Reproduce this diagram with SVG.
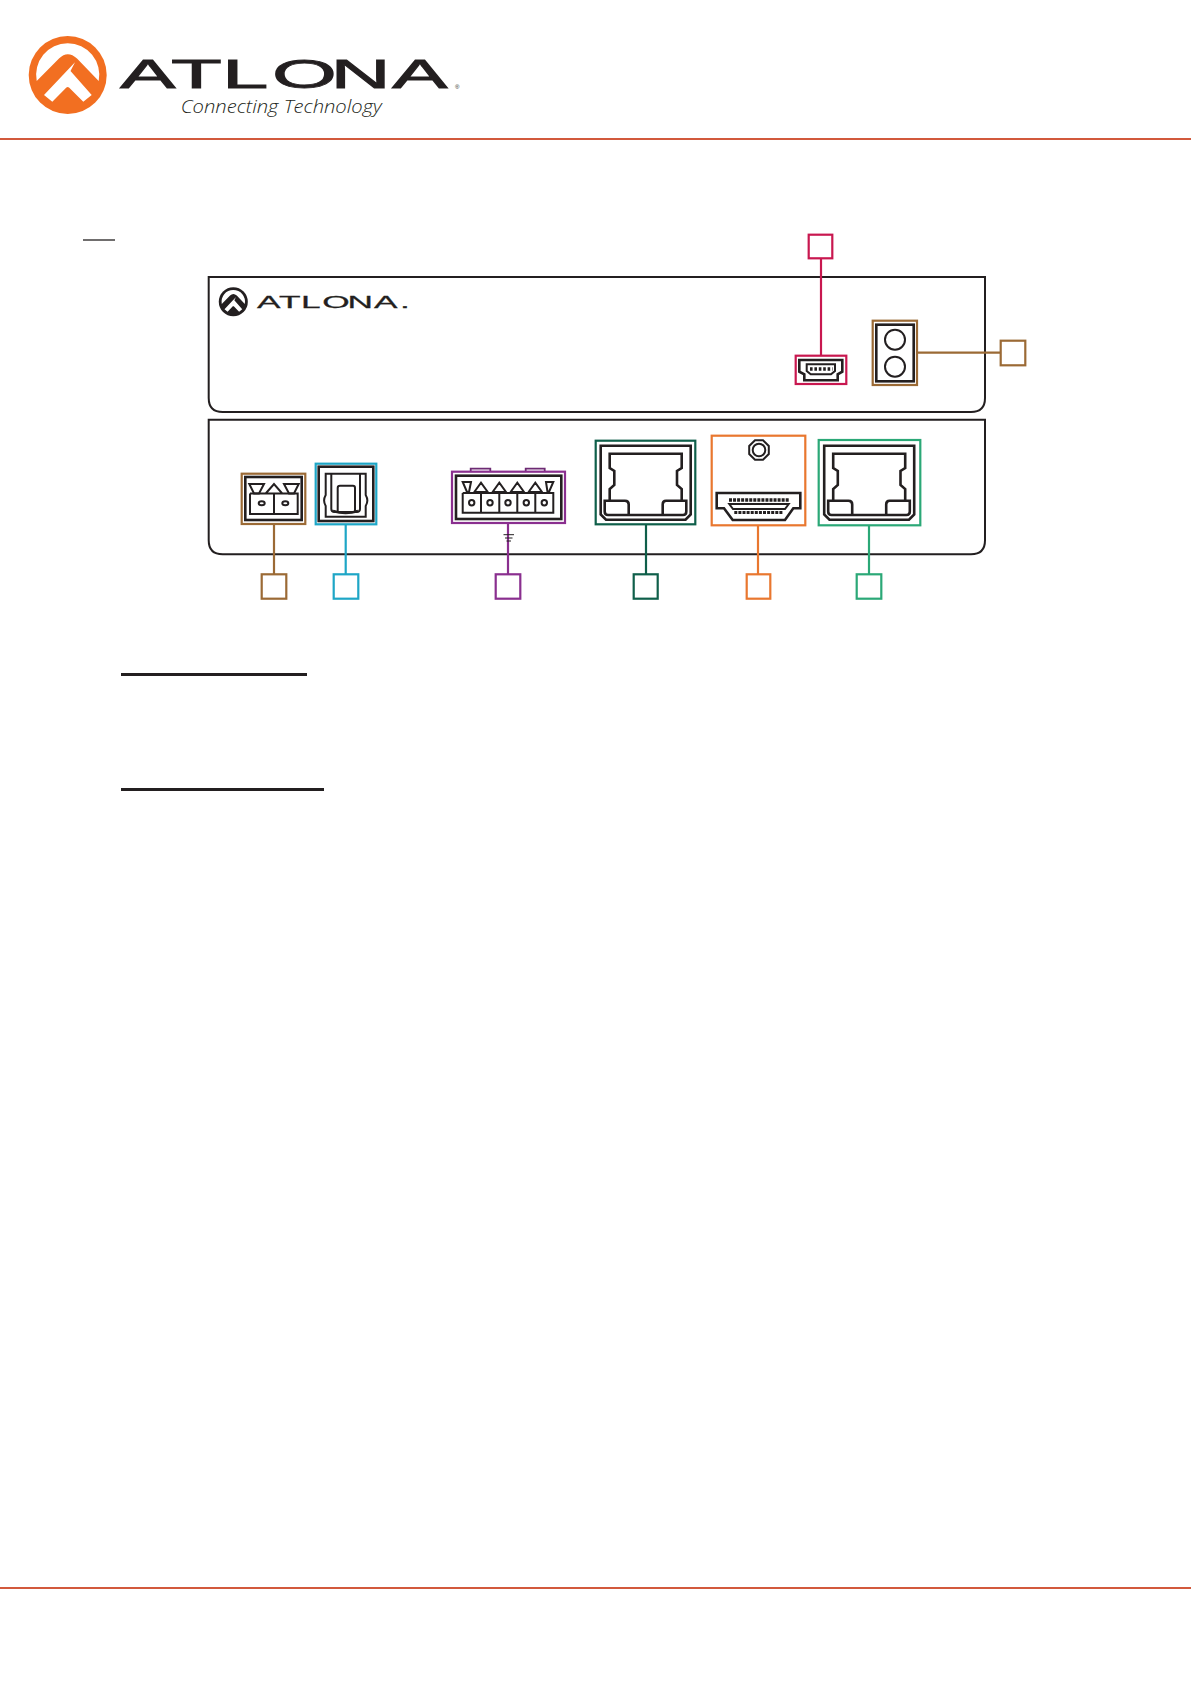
<svg xmlns="http://www.w3.org/2000/svg" width="1191" height="1684" viewBox="0 0 1191 1684">
<style>
.rule{stroke:#d2593c;stroke-width:2;fill:none}
.under{stroke:#231f20;fill:none}
.panel{fill:none;stroke:#231f20;stroke-width:2}
.k{fill:none;stroke:#231f20;stroke-width:2;stroke-linejoin:miter}
.k2{fill:none;stroke:#231f20;stroke-width:2.6}
.brown{stroke:#9b6a35}.cyan{stroke:#1ea6c6}.purple{stroke:#8a2f8f}.dgreen{stroke:#0f5f4a}.orange{stroke:#e9772f}.green{stroke:#2ba877}.red{stroke:#c8174f}
.frame{fill:#fff;stroke-width:2.2}
.link{fill:none;stroke-width:2.2}
.logo{font-family:"Liberation Sans",Arial,sans-serif;fill:#231f20}
</style>
<defs>
<g id="mark">
<circle cx="67.7" cy="75" r="39"/>
<path fill="#fff" d="M36.7 81A31.6 31.6 0 1 1 98.7 81L77 58.5Q67.7 50 59 58.5Z"/>
<path fill="#fff" d="M44 95L75 62.3 70.5 71 91.7 95 83.3 101.7 69 87.5Q67.7 86.5 66.4 87.5L52.3 101.7Z"/>
</g>
<g id="rj45">
<path class="k2" d="M600.7 445.7H690.7V514.5L685.5 519.7H606L600.7 514.5Z"/>
<path class="k2" d="M609.7 500.7V489L614.3 485V471L609.7 468V453.7H681.7V468L677 471V485L681.7 489V500.7"/>
<path class="k2" d="M628.7 515V504.5Q628.7 500.7 625 500.7H604.7V511.5Q604.7 515 608 515H683Q686.3 515 686.3 511.5V500.7H666Q662.7 500.7 662.7 504.5V515"/>
</g>
</defs>

<path class="rule" d="M0 139H1191"/>
<path class="rule" d="M0 1588H1191"/>
<path class="under" stroke-width="1.3" d="M83 240H115"/>
<path class="under" stroke-width="3" d="M121 674.5H307"/>
<path class="under" stroke-width="3" d="M121 789.5H324"/>

<g id="brand">
<use href="#mark" fill="#f26f21"/>
<text class="logo" font-size="39.7" stroke="#231f20" stroke-width=".8" transform="scale(2.1 1)" x="57.1 81.4 105.7 129.5 157.4 186.7" y="88.2">ATLONA</text>
<text class="logo" font-size="6" fill="#777" x="455" y="89">®</text>
<text x="180.7" y="113.3" font-family="'Open Sans',sans-serif" font-style="italic" font-weight="300" font-size="19" fill="#231f20" textLength="201" lengthAdjust="spacingAndGlyphs">Connecting Technology</text>
</g>

<g id="panel-top">
<path class="panel" d="M208.7 277H985V398Q985 412 971 412H222.7Q208.7 412 208.7 398Z"/>
<use href="#mark" fill="#231f20" transform="translate(233.3 301.7) scale(.372) translate(-67.7 -75)"/>
<text class="logo" font-size="16.8" stroke="#231f20" stroke-width=".25" transform="scale(2.1 1)" x="122.4 132.9 143.3 153.5 165.5 178.1 190.5" y="307.7">ATLONA.</text>
</g>
<g id="panel-bottom">
<path class="panel" d="M208.7 419.7H985V540.3Q985 554.3 971 554.3H222.7Q208.7 554.3 208.7 540.3Z"/>
</g>

<g id="connectors">
<path class="link brown" d="M274 524V574.5"/>
<path class="link cyan" d="M345.7 524V574.5"/>
<path class="link purple" d="M508 523V574.5"/>
<path class="link dgreen" d="M646 524V574.5"/>
<path class="link orange" d="M758 525V574.5"/>
<path class="link green" d="M869 525V574.5"/>
<path class="link red" d="M821 258V355.7"/>
<path class="link brown" d="M917 352.7H1000.7"/>
<path stroke="#231f20" stroke-width="1" fill="none" d="M503.5 534.7H514M505 538H512.5M506.5 541H511"/>
</g>

<g id="port-power">
<rect class="frame brown" x="241.7" y="473.7" width="63.6" height="50.3"/>
<rect class="k2" x="245.3" y="477" width="56.4" height="43"/>
<path class="k" d="M249.3 484H264L259 493.5H254ZM298.7 484H284L289 493.5H294Z"/>
<path class="k" d="M250 493.5V514H297.7V493.5H250M274 493.5V514M265.7 493.5L274 484L282.3 493.5Z"/>
<ellipse class="k" cx="261.7" cy="503.3" rx="3" ry="2"/>
<ellipse class="k" cx="285.3" cy="503.3" rx="3" ry="2"/>
</g>
<g id="port-optical">
<rect class="frame cyan" x="315.7" y="463.7" width="60.6" height="60.6"/>
<rect class="k2" x="318.7" y="466.7" width="54.6" height="54.3"/>
<path class="k" d="M325.7 495V473.7H365.7V495Q369 500.7 365.7 506V516.7H325.7V506Q322.5 500.7 325.7 495Z"/>
<path class="k" d="M331.3 473.7V509Q331.3 512 335 512H356.5Q360 512 360 509V473.7M337.7 512V488Q337.7 485.7 340 485.7H353Q355 485.7 355 488V512"/>
<path stroke="#231f20" stroke-width="2.6" fill="none" d="M333 511Q345.7 515 358 511"/>
</g>
<g id="port-rs232">
<path fill="#fff" stroke="#6d2a73" stroke-width="1.8" d="M470.7 472V468.7H490.3V472M525.7 472V468.7H544.7V472"/>
<rect class="frame purple" x="452" y="471.7" width="113" height="51.3"/>
<rect class="k2" x="456" y="475.7" width="105.3" height="43.3"/>
<path class="k" d="M462.7 493V512.7H553.3V493H462.7M481 493V512.7M499.3 493V512.7M517.3 493V512.7M535.3 493V512.7"/>
<path class="k" d="M462.7 482H471L469 492H467ZM553.3 482H546L547.5 492H549Z"/>
<path class="k" d="M474.3 492L481 482.7L487.7 492ZM492.6 492L499.3 482.7L506 492ZM510.6 492L517.3 482.7L524 492ZM528.6 492L535.3 482.7L542 492Z"/>
<circle class="k" cx="471.7" cy="502.7" r="2.7"/>
<circle class="k" cx="490" cy="502.7" r="2.7"/>
<circle class="k" cx="508" cy="502.7" r="2.7"/>
<circle class="k" cx="526.3" cy="502.7" r="2.7"/>
<circle class="k" cx="544.3" cy="502.7" r="2.7"/>
</g>
<g id="port-lan-a">
<rect class="frame dgreen" x="595.7" y="440.7" width="99.6" height="83.6"/>
<use href="#rj45"/>
</g>
<g id="port-hdmi">
<rect class="frame orange" x="711.7" y="435.7" width="93.6" height="89.6"/>
<path class="k" d="M755 440.2H763L768.8 446V454L763 459.8H755L749.2 454V446Z"/>
<circle class="k" cx="759" cy="450" r="6.3"/>
<path class="k2" d="M716.7 493H800.3V508.3H793.3L785 520H732.7L724 508.3H716.7Z"/>
<path stroke="#231f20" stroke-width="3.5" stroke-dasharray="3 1.05" fill="none" d="M729 500H789.5"/>
<path stroke="#231f20" stroke-width="3" stroke-dasharray="3 1.1" fill="none" d="M734.3 512.4H783.5"/>
<path class="k" d="M729.3 504H788.7L785 509H733Z"/>
</g>
<g id="port-lan-b">
<rect class="frame green" x="818.7" y="440" width="101.6" height="85.3"/>
<use href="#rj45" transform="translate(223.5 0)"/>
</g>
<g id="port-usb">
<rect class="frame red" x="795.7" y="355.7" width="50.6" height="28.3"/>
<path class="k2" d="M799.3 360H842.3V371.7L837.7 374.3V380.3H804.3V374.3L799.3 371.7Z"/>
<path class="k" d="M806.7 364.3H835V371L831 374.3H810.7L806.7 371Z"/>
<path stroke="#231f20" stroke-width="3.5" stroke-dasharray="2.6 1.8" fill="none" d="M810 369H832.5"/>
</g>
<g id="port-ir">
<rect class="frame brown" x="872.7" y="320.7" width="44.3" height="64.3"/>
<rect class="k2" x="876.3" y="324.7" width="37.4" height="56.6"/>
<circle class="k" cx="895" cy="339.7" r="10"/>
<circle class="k" cx="895" cy="366.7" r="10"/>
</g>

<g id="tags">
<rect class="frame brown" x="261.7" y="574.3" width="24.6" height="24.4"/>
<rect class="frame cyan" x="333.7" y="574.3" width="24.6" height="24.4"/>
<rect class="frame purple" x="495.7" y="574.3" width="24.6" height="24.4"/>
<rect class="frame dgreen" x="633.7" y="574.3" width="24" height="24.4" stroke-width="1.6"/>
<rect class="frame orange" x="746.7" y="574.3" width="23.6" height="24.4" stroke-width="1.6"/>
<rect class="frame green" x="856.7" y="574.3" width="24.6" height="24.4"/>
<rect class="frame red" x="808.7" y="234.7" width="23.6" height="23.6"/>
<rect class="frame brown" x="1000.7" y="340.7" width="24.6" height="24.6"/>
</g>
</svg>
